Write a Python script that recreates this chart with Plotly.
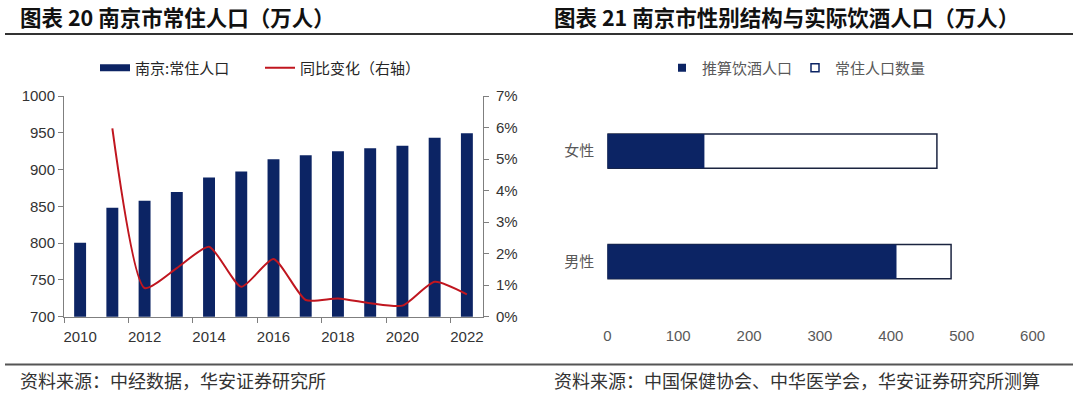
import plotly.graph_objects as go

# ---------------- data ----------------
years = list(range(2010, 2023))
population = [800.5, 848.2, 857.7, 869.5, 889.1, 897.3, 914.1, 919.5, 925.0, 929.1, 932.3, 943.2, 949.5]
yoy_years = list(range(2011, 2023))
yoy_pct = [5.97, 0.91, 1.54, 2.22, 0.95, 1.83, 0.53, 0.58, 0.43, 0.35, 1.11, 0.71]

genders = ['女性', '男性']
drinking = [137, 408]
resident = [465, 485]
gender_order = ['男性', '女性']

left_title = '图表 20 南京市常住人口（万人）'
right_title = '图表 21 南京市性别结构与实际饮酒人口（万人）'
left_source = '资料来源：中经数据，华安证券研究所'
right_source = '资料来源：中国保健协会、中华医学会，华安证券研究所测算'

# ---------------- style ----------------
W, H = 1080, 397
NAVY = '#0C2464'
RED = '#C0161F'
AX = '#7F7F7F'
CJK = 'Noto Sans CJK SC'
NUM = 'Liberation Sans, Arial, sans-serif'

def px_x(p):
    return p / W

def px_y(p):
    return (H - p) / H

dom_y = [px_y(316.7), px_y(96)]

fig = go.Figure()

# left chart
fig.add_trace(go.Bar(x=years, y=population, width=0.37, marker=dict(color=NAVY, line=dict(width=0)),
                     showlegend=False, xaxis='x', yaxis='y', name='南京:常住人口'))
fig.add_trace(go.Scatter(x=[None], y=[None], mode='lines', line=dict(color=NAVY, width=7),
                         name='南京:常住人口', legend='legend', xaxis='x', yaxis='y'))
fig.add_trace(go.Scatter(x=yoy_years, y=yoy_pct, mode='lines',
                         line=dict(color=RED, width=2, shape='spline', smoothing=0.6),
                         name='同比变化（右轴）', legend='legend', xaxis='x', yaxis='y2'))

# right chart
fig.add_trace(go.Bar(y=genders, x=resident, orientation='h', width=0.31,
                     marker=dict(color='white', line=dict(color='#1B2440', width=1.5)),
                     showlegend=False, xaxis='x2', yaxis='y3', name='常住人口数量'))
fig.add_trace(go.Bar(y=genders, x=drinking, orientation='h', width=0.31,
                     marker=dict(color=NAVY, line=dict(width=0)),
                     showlegend=False, xaxis='x2', yaxis='y3', name='推算饮酒人口'))
fig.add_trace(go.Scatter(x=[None], y=[None], mode='markers',
                         marker=dict(symbol='square', size=8, color=NAVY),
                         name='推算饮酒人口', legend='legend2', xaxis='x2', yaxis='y3'))
fig.add_trace(go.Scatter(x=[None], y=[None], mode='markers',
                         marker=dict(symbol='square', size=8, color='white', line=dict(color=NAVY, width=1.5)),
                         name='常住人口数量', legend='legend2', xaxis='x2', yaxis='y3'))

tick_font = dict(family=NUM, size=15, color='#333333')
tick_font_r = dict(family=NUM, size=15, color='#595959')

fig.update_layout(
    width=W, height=H,
    margin=dict(l=0, r=0, t=0, b=0, autoexpand=False),
    paper_bgcolor='white', plot_bgcolor='white',
    barmode='overlay',
    xaxis=dict(domain=[px_x(64), px_x(483)], range=[years[0] - 0.5, years[-1] + 0.5],
               tickmode='array', tickvals=years[::2], ticktext=[str(y) for y in years[::2]],
               ticks='', showline=True, linecolor=AX, linewidth=1, showgrid=False, zeroline=False,
               tickfont=tick_font, ticklabelstandoff=6, anchor='y', automargin=False,
               minor=dict(tickmode='array', tickvals=[y - 0.5 for y in years[::2]],
                          ticks='outside', ticklen=5, tickcolor=AX, showgrid=False)),
    yaxis=dict(domain=dom_y, range=[700, 1000], dtick=50, ticks='outside', ticklen=5, tickcolor=AX,
               showline=True, linecolor=AX, showgrid=False, zeroline=False, tickfont=tick_font,
               anchor='x', automargin=False),
    yaxis2=dict(overlaying='y', side='right', anchor='x', range=[0, 7], dtick=1, ticksuffix='%',
                ticks='outside', ticklen=5, tickcolor=AX, showline=True, linecolor=AX,
                showgrid=False, zeroline=False, tickfont=tick_font, ticklabelstandoff=4,
                automargin=False),
    xaxis2=dict(domain=[px_x(607.3), px_x(1032.6)], range=[0, 600], dtick=100, showline=False,
                showgrid=False, zeroline=False, ticks='', tickfont=tick_font_r, anchor='y3',
                ticklabelstandoff=8, automargin=False),
    yaxis3=dict(domain=dom_y, anchor='x2', type='category', categoryorder='array',
                categoryarray=gender_order, range=[-0.5, 1.5], showline=False, showgrid=False,
                zeroline=False, ticks='', tickfont=dict(family=CJK, size=15, color='#595959'),
                ticklabelstandoff=12, automargin=False),
    legend=dict(orientation='h', x=px_x(95), xanchor='left', y=px_y(68), yanchor='middle',
                entrywidth=120, entrywidthmode='pixels', bgcolor='rgba(0,0,0,0)',
                font=dict(family=CJK, size=15, color='#262626'), itemwidth=30),
    legend2=dict(orientation='h', x=px_x(662), xanchor='left', y=px_y(68), yanchor='middle',
                 entrywidth=88, entrywidthmode='pixels', bgcolor='rgba(0,0,0,0)',
                 font=dict(family=CJK, size=15, color='#595959'), itemwidth=30),
    showlegend=True,
)

annotations = [
    dict(text='<b>' + left_title + '</b>', x=px_x(18), y=px_y(16.7), xref='paper', yref='paper',
         xanchor='left', yanchor='middle', showarrow=False,
         font=dict(family=CJK, size=21.5, color='#111111')),
    dict(text='<b>' + right_title + '</b>', x=px_x(552), y=px_y(16.7), xref='paper', yref='paper',
         xanchor='left', yanchor='middle', showarrow=False,
         font=dict(family=CJK, size=21.5, color='#111111')),
    dict(text=left_source, x=px_x(18), y=px_y(380), xref='paper', yref='paper',
         xanchor='left', yanchor='middle', showarrow=False,
         font=dict(family=CJK, size=18, color='#333333')),
    dict(text=right_source, x=px_x(552), y=px_y(380), xref='paper', yref='paper',
         xanchor='left', yanchor='middle', showarrow=False,
         font=dict(family=CJK, size=18, color='#333333')),
]
fig.update_layout(annotations=annotations)

shapes = [
    dict(type='line', xref='paper', yref='paper', x0=px_x(5), x1=px_x(1073), y0=px_y(34), y1=px_y(34),
         line=dict(color='#333333', width=2)),
    dict(type='line', xref='paper', yref='paper', x0=px_x(5), x1=px_x(1073), y0=px_y(364.5), y1=px_y(364.5),
         line=dict(color='#555555', width=2)),
]
fig.update_layout(shapes=shapes)

fig.write_html('out.html', config={'displayModeBar': False},
               post_script="document.body.style.margin='0px';document.body.style.overflow='hidden';")
